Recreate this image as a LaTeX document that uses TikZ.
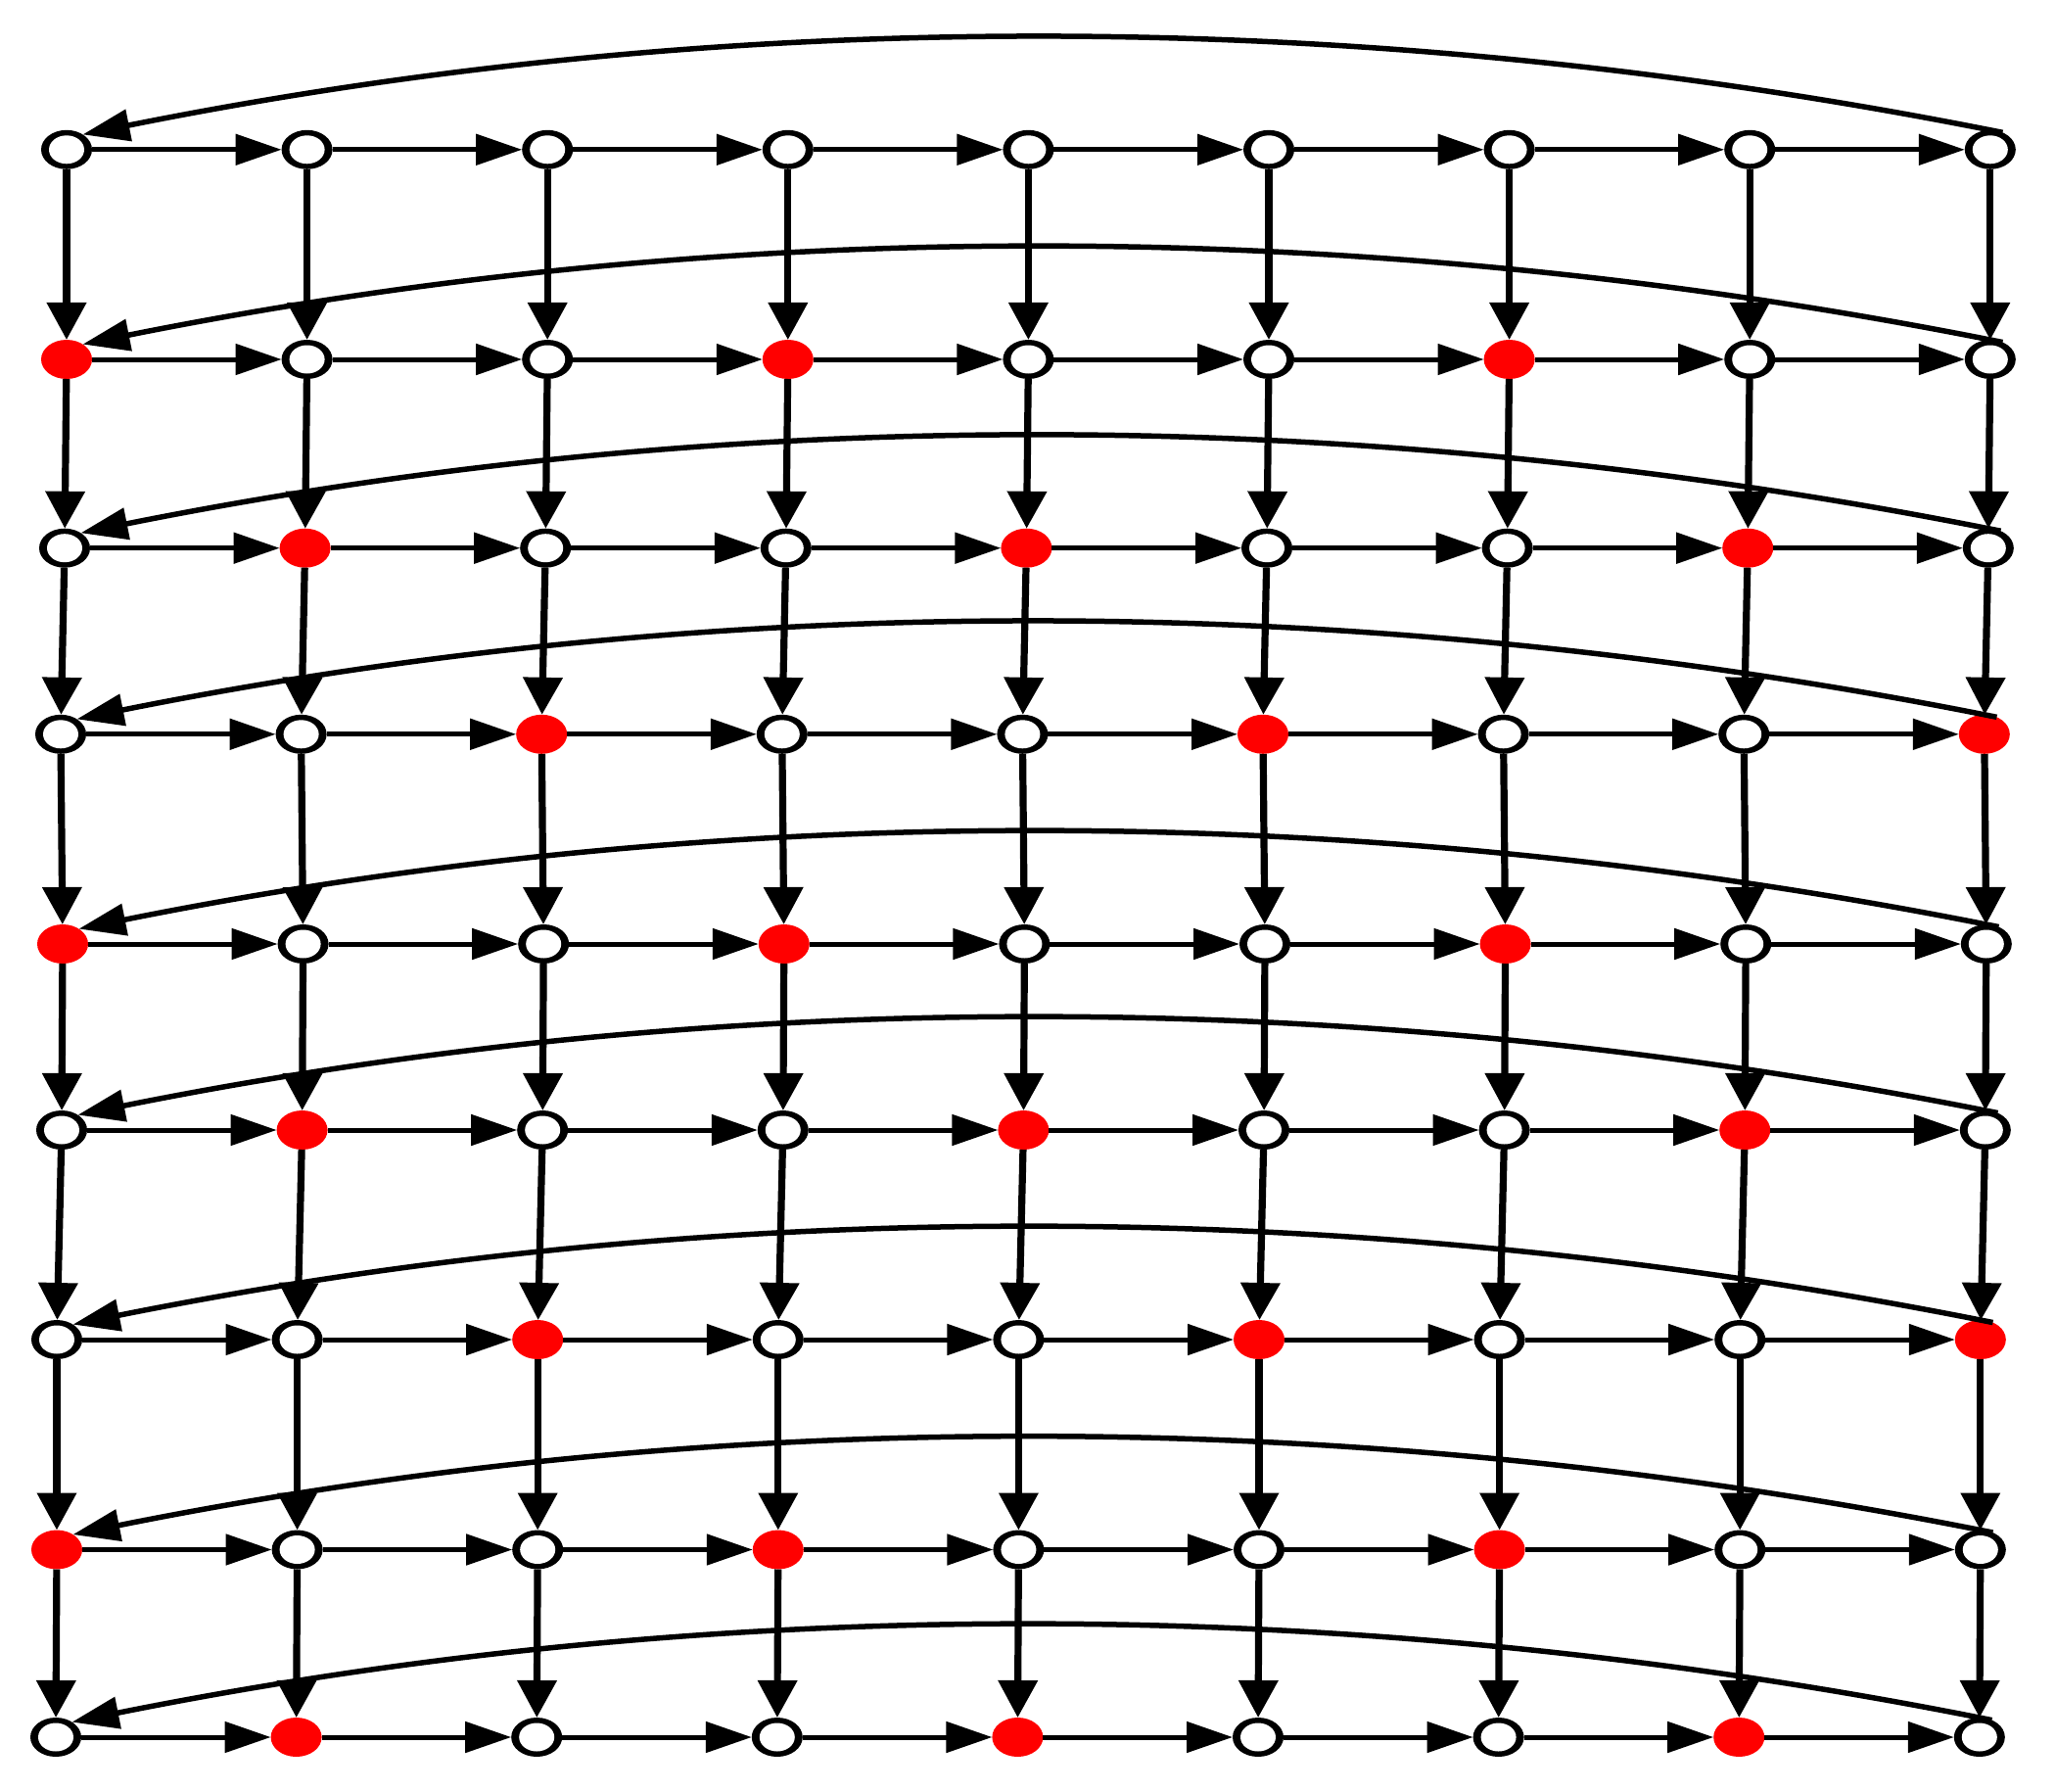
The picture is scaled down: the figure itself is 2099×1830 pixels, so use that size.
\documentclass[tikz,border=0pt]{standalone}
\usetikzlibrary{arrows.meta,shapes.geometric}
\begin{document}
\begin{tikzpicture}[x=0.5pt,y=-0.5pt,
  vbase/.style={ellipse, minimum width=26pt, minimum height=20pt, inner sep=0pt, outer sep=0pt},
  vtx/.style={vbase, fill=black, path picture={\fill[white] (path picture bounding box.center) ellipse (9pt and 7.25pt);}},
  hot/.style={vbase, fill=red},
  hedge/.style={line width=2.5pt, -{Triangle[length=23.5pt,width=15.5pt]}},
  vedge/.style={line width=3.6pt, -{Triangle[length=19pt,width=19.5pt]}},
  backedge/.style={line width=2.75pt, -{Triangle[length=24pt,width=16pt]}}
]
\fill[white] (0,0) rectangle (2099,1830);
\useasboundingbox (0,0) rectangle (2099,1830);
% nodes
\foreach \r/\y/\x in {1/152.8/68, 2/367/68, 3/559.7/66, 4/749.8/62, 5/964/64, 6/1154/63, 7/1368/58, 8/1582.5/58, 9/1774/57} {
  \foreach \c in {1,...,9} {
    \pgfmathtruncatemacro\m{mod(\c-\r+28,3)}
    \pgfmathsetmacro\xx{\x+245.6*(\c-1)}
    \ifnum\r>1 \ifnum\m=0 \def\sty{hot}\else\def\sty{vtx}\fi \else \def\sty{vtx}\fi
    \node[\sty] (n\r-\c) at (\xx,\y) {};
  }
}
% horizontal edges
\foreach \r in {1,...,9} {
  \foreach \c [evaluate=\c as \cn using int(\c+1)] in {1,...,8} {
    \draw[hedge] (n\r-\c) -- (n\r-\cn);
  }
}
% vertical edges
\foreach \r [evaluate=\r as \rn using int(\r+1)] in {1,...,8} {
  \foreach \c in {1,...,9} {
    \draw[vedge] (n\r-\c) -- (n\rn-\c);
  }
}
% back edges
\foreach \r in {1,...,9} {
  \draw[backedge] (n\r-9.54) .. controls +(-653,-131) and +(653,-131) .. (n\r-1.43);
}
\end{tikzpicture}
\end{document}
